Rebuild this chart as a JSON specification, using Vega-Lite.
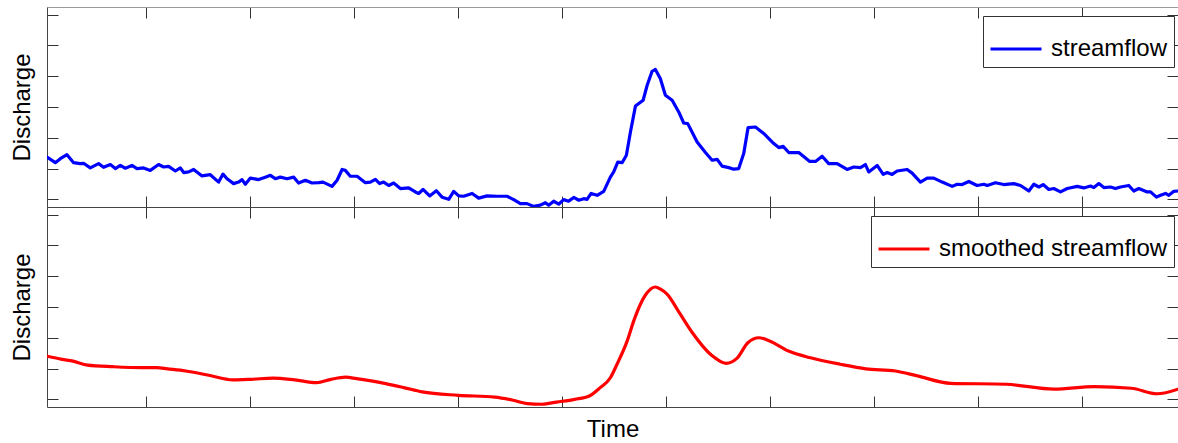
{
  "$schema": "https://vega.github.io/schema/vega-lite/v6.json",
  "background": "white",
  "padding": {"left": 10, "top": 6, "right": 0, "bottom": 0},
  "spacing": 0,
  "bounds": "flush",
  "config": {
    "font": "Liberation Sans",
    "view": {"stroke": null},
    "axis": {
      "labels": false,
      "grid": false,
      "tickSize": -11,
      "tickColor": "#333333",
      "tickWidth": 1,
      "domainColor": "#444444",
      "domainWidth": 1,
      "titleFont": "Liberation Sans",
      "titleFontSize": 24,
      "titleFontWeight": "normal",
      "titleColor": "#000000"
    },
    "legend": {
      "labelFont": "Liberation Sans",
      "labelFontSize": 24,
      "labelColor": "#000000",
      "labelLimit": 500,
      "strokeColor": "#333333",
      "fillColor": "#ffffff",
      "padding": 6,
      "symbolType": "stroke",
      "symbolSize": 2601,
      "symbolStrokeWidth": 3,
      "labelOffset": 8,
      "title": null,
      "orient": "none"
    }
  },
  "datasets": {
    "flow": [
      {"t": 4.8, "q": 1.37, "series": "streamflow"},
      {"t": 12.8, "q": 1.19, "series": "streamflow"},
      {"t": 17.6, "q": 1.32, "series": "streamflow"},
      {"t": 24.0, "q": 1.45, "series": "streamflow"},
      {"t": 30.4, "q": 1.19, "series": "streamflow"},
      {"t": 36.8, "q": 1.16, "series": "streamflow"},
      {"t": 40.0, "q": 1.17, "series": "streamflow"},
      {"t": 46.4, "q": 1.02, "series": "streamflow"},
      {"t": 54.4, "q": 1.16, "series": "streamflow"},
      {"t": 59.2, "q": 1.04, "series": "streamflow"},
      {"t": 65.7, "q": 1.13, "series": "streamflow"},
      {"t": 70.5, "q": 1.00, "series": "streamflow"},
      {"t": 75.3, "q": 1.10, "series": "streamflow"},
      {"t": 80.1, "q": 1.01, "series": "streamflow"},
      {"t": 86.5, "q": 1.10, "series": "streamflow"},
      {"t": 91.3, "q": 1.00, "series": "streamflow"},
      {"t": 97.7, "q": 1.02, "series": "streamflow"},
      {"t": 104.1, "q": 0.94, "series": "streamflow"},
      {"t": 112.1, "q": 1.13, "series": "streamflow"},
      {"t": 116.9, "q": 1.05, "series": "streamflow"},
      {"t": 121.7, "q": 1.07, "series": "streamflow"},
      {"t": 128.2, "q": 0.92, "series": "streamflow"},
      {"t": 133.0, "q": 1.02, "series": "streamflow"},
      {"t": 136.2, "q": 0.87, "series": "streamflow"},
      {"t": 141.0, "q": 0.89, "series": "streamflow"},
      {"t": 145.8, "q": 0.97, "series": "streamflow"},
      {"t": 153.8, "q": 0.76, "series": "streamflow"},
      {"t": 161.8, "q": 0.80, "series": "streamflow"},
      {"t": 169.8, "q": 0.56, "series": "streamflow"},
      {"t": 174.0, "q": 0.82, "series": "streamflow"},
      {"t": 177.9, "q": 0.67, "series": "streamflow"},
      {"t": 184.2, "q": 0.51, "series": "streamflow"},
      {"t": 189.0, "q": 0.56, "series": "streamflow"},
      {"t": 192.3, "q": 0.64, "series": "streamflow"},
      {"t": 195.5, "q": 0.49, "series": "streamflow"},
      {"t": 200.3, "q": 0.69, "series": "streamflow"},
      {"t": 208.3, "q": 0.64, "series": "streamflow"},
      {"t": 214.7, "q": 0.72, "series": "streamflow"},
      {"t": 219.5, "q": 0.78, "series": "streamflow"},
      {"t": 224.3, "q": 0.67, "series": "streamflow"},
      {"t": 229.1, "q": 0.72, "series": "streamflow"},
      {"t": 235.6, "q": 0.67, "series": "streamflow"},
      {"t": 241.9, "q": 0.72, "series": "streamflow"},
      {"t": 246.7, "q": 0.53, "series": "streamflow"},
      {"t": 253.2, "q": 0.62, "series": "streamflow"},
      {"t": 259.6, "q": 0.53, "series": "streamflow"},
      {"t": 266.0, "q": 0.54, "series": "streamflow"},
      {"t": 270.2, "q": 0.56, "series": "streamflow"},
      {"t": 278.8, "q": 0.42, "series": "streamflow"},
      {"t": 283.7, "q": 0.62, "series": "streamflow"},
      {"t": 288.5, "q": 0.97, "series": "streamflow"},
      {"t": 291.6, "q": 0.94, "series": "streamflow"},
      {"t": 296.4, "q": 0.75, "series": "streamflow"},
      {"t": 302.9, "q": 0.75, "series": "streamflow"},
      {"t": 310.9, "q": 0.54, "series": "streamflow"},
      {"t": 315.7, "q": 0.56, "series": "streamflow"},
      {"t": 320.5, "q": 0.65, "series": "streamflow"},
      {"t": 324.6, "q": 0.51, "series": "streamflow"},
      {"t": 328.5, "q": 0.56, "series": "streamflow"},
      {"t": 333.3, "q": 0.45, "series": "streamflow"},
      {"t": 338.1, "q": 0.53, "series": "streamflow"},
      {"t": 344.5, "q": 0.35, "series": "streamflow"},
      {"t": 352.5, "q": 0.37, "series": "streamflow"},
      {"t": 358.9, "q": 0.24, "series": "streamflow"},
      {"t": 362.1, "q": 0.19, "series": "streamflow"},
      {"t": 366.3, "q": 0.32, "series": "streamflow"},
      {"t": 372.7, "q": 0.11, "series": "streamflow"},
      {"t": 379.1, "q": 0.28, "series": "streamflow"},
      {"t": 384.6, "q": 0.07, "series": "streamflow"},
      {"t": 391.0, "q": 0.00, "series": "streamflow"},
      {"t": 395.8, "q": 0.26, "series": "streamflow"},
      {"t": 400.6, "q": 0.11, "series": "streamflow"},
      {"t": 405.4, "q": 0.10, "series": "streamflow"},
      {"t": 413.5, "q": 0.19, "series": "streamflow"},
      {"t": 419.8, "q": 0.04, "series": "streamflow"},
      {"t": 427.9, "q": 0.11, "series": "streamflow"},
      {"t": 437.5, "q": 0.10, "series": "streamflow"},
      {"t": 447.1, "q": 0.10, "series": "streamflow"},
      {"t": 453.5, "q": -0.01, "series": "streamflow"},
      {"t": 459.9, "q": -0.14, "series": "streamflow"},
      {"t": 466.3, "q": -0.14, "series": "streamflow"},
      {"t": 472.7, "q": -0.23, "series": "streamflow"},
      {"t": 479.1, "q": -0.19, "series": "streamflow"},
      {"t": 483.9, "q": -0.11, "series": "streamflow"},
      {"t": 487.1, "q": -0.19, "series": "streamflow"},
      {"t": 491.9, "q": -0.06, "series": "streamflow"},
      {"t": 496.7, "q": -0.16, "series": "streamflow"},
      {"t": 501.5, "q": -0.01, "series": "streamflow"},
      {"t": 506.3, "q": -0.06, "series": "streamflow"},
      {"t": 511.2, "q": 0.06, "series": "streamflow"},
      {"t": 516.0, "q": -0.03, "series": "streamflow"},
      {"t": 520.8, "q": 0.02, "series": "streamflow"},
      {"t": 524.0, "q": 0.00, "series": "streamflow"},
      {"t": 527.9, "q": 0.19, "series": "streamflow"},
      {"t": 533.7, "q": 0.13, "series": "streamflow"},
      {"t": 540.0, "q": 0.26, "series": "streamflow"},
      {"t": 546.4, "q": 0.72, "series": "streamflow"},
      {"t": 549.6, "q": 0.89, "series": "streamflow"},
      {"t": 553.5, "q": 1.21, "series": "streamflow"},
      {"t": 557.7, "q": 1.19, "series": "streamflow"},
      {"t": 561.8, "q": 1.43, "series": "streamflow"},
      {"t": 565.7, "q": 2.19, "series": "streamflow"},
      {"t": 570.5, "q": 3.03, "series": "streamflow"},
      {"t": 577.9, "q": 3.22, "series": "streamflow"},
      {"t": 581.7, "q": 3.70, "series": "streamflow"},
      {"t": 586.5, "q": 4.16, "series": "streamflow"},
      {"t": 589.7, "q": 4.22, "series": "streamflow"},
      {"t": 594.5, "q": 3.92, "series": "streamflow"},
      {"t": 599.3, "q": 3.38, "series": "streamflow"},
      {"t": 605.8, "q": 3.22, "series": "streamflow"},
      {"t": 612.1, "q": 2.84, "series": "streamflow"},
      {"t": 616.9, "q": 2.48, "series": "streamflow"},
      {"t": 620.8, "q": 2.46, "series": "streamflow"},
      {"t": 629.8, "q": 1.86, "series": "streamflow"},
      {"t": 637.8, "q": 1.52, "series": "streamflow"},
      {"t": 644.2, "q": 1.27, "series": "streamflow"},
      {"t": 649.0, "q": 1.30, "series": "streamflow"},
      {"t": 653.8, "q": 1.08, "series": "streamflow"},
      {"t": 660.2, "q": 1.03, "series": "streamflow"},
      {"t": 665.0, "q": 0.98, "series": "streamflow"},
      {"t": 669.8, "q": 1.00, "series": "streamflow"},
      {"t": 674.6, "q": 1.49, "series": "streamflow"},
      {"t": 678.8, "q": 2.33, "series": "streamflow"},
      {"t": 685.9, "q": 2.35, "series": "streamflow"},
      {"t": 693.8, "q": 2.14, "series": "streamflow"},
      {"t": 703.5, "q": 1.81, "series": "streamflow"},
      {"t": 708.3, "q": 1.68, "series": "streamflow"},
      {"t": 712.5, "q": 1.72, "series": "streamflow"},
      {"t": 717.9, "q": 1.52, "series": "streamflow"},
      {"t": 727.5, "q": 1.52, "series": "streamflow"},
      {"t": 738.1, "q": 1.23, "series": "streamflow"},
      {"t": 743.6, "q": 1.23, "series": "streamflow"},
      {"t": 750.0, "q": 1.40, "series": "streamflow"},
      {"t": 756.3, "q": 1.16, "series": "streamflow"},
      {"t": 764.4, "q": 1.16, "series": "streamflow"},
      {"t": 774.0, "q": 0.97, "series": "streamflow"},
      {"t": 780.4, "q": 1.05, "series": "streamflow"},
      {"t": 786.8, "q": 1.03, "series": "streamflow"},
      {"t": 791.6, "q": 1.13, "series": "streamflow"},
      {"t": 794.8, "q": 0.89, "series": "streamflow"},
      {"t": 802.9, "q": 1.10, "series": "streamflow"},
      {"t": 808.7, "q": 0.81, "series": "streamflow"},
      {"t": 812.5, "q": 0.87, "series": "streamflow"},
      {"t": 817.3, "q": 0.81, "series": "streamflow"},
      {"t": 822.1, "q": 0.92, "series": "streamflow"},
      {"t": 831.7, "q": 0.97, "series": "streamflow"},
      {"t": 836.5, "q": 0.85, "series": "streamflow"},
      {"t": 844.5, "q": 0.56, "series": "streamflow"},
      {"t": 851.0, "q": 0.69, "series": "streamflow"},
      {"t": 857.3, "q": 0.69, "series": "streamflow"},
      {"t": 865.4, "q": 0.56, "series": "streamflow"},
      {"t": 875.0, "q": 0.42, "series": "streamflow"},
      {"t": 879.8, "q": 0.49, "series": "streamflow"},
      {"t": 884.6, "q": 0.48, "series": "streamflow"},
      {"t": 891.0, "q": 0.58, "series": "streamflow"},
      {"t": 899.0, "q": 0.45, "series": "streamflow"},
      {"t": 905.4, "q": 0.49, "series": "streamflow"},
      {"t": 908.7, "q": 0.45, "series": "streamflow"},
      {"t": 916.6, "q": 0.54, "series": "streamflow"},
      {"t": 924.6, "q": 0.48, "series": "streamflow"},
      {"t": 934.2, "q": 0.51, "series": "streamflow"},
      {"t": 940.7, "q": 0.45, "series": "streamflow"},
      {"t": 948.7, "q": 0.27, "series": "streamflow"},
      {"t": 953.5, "q": 0.49, "series": "streamflow"},
      {"t": 958.3, "q": 0.40, "series": "streamflow"},
      {"t": 962.5, "q": 0.48, "series": "streamflow"},
      {"t": 967.9, "q": 0.32, "series": "streamflow"},
      {"t": 972.7, "q": 0.35, "series": "streamflow"},
      {"t": 979.1, "q": 0.24, "series": "streamflow"},
      {"t": 985.6, "q": 0.35, "series": "streamflow"},
      {"t": 995.2, "q": 0.42, "series": "streamflow"},
      {"t": 1001.5, "q": 0.37, "series": "streamflow"},
      {"t": 1008.0, "q": 0.43, "series": "streamflow"},
      {"t": 1011.2, "q": 0.38, "series": "streamflow"},
      {"t": 1016.0, "q": 0.51, "series": "streamflow"},
      {"t": 1020.8, "q": 0.38, "series": "streamflow"},
      {"t": 1027.2, "q": 0.40, "series": "streamflow"},
      {"t": 1032.0, "q": 0.35, "series": "streamflow"},
      {"t": 1036.8, "q": 0.40, "series": "streamflow"},
      {"t": 1044.8, "q": 0.45, "series": "streamflow"},
      {"t": 1049.6, "q": 0.27, "series": "streamflow"},
      {"t": 1054.4, "q": 0.35, "series": "streamflow"},
      {"t": 1062.5, "q": 0.24, "series": "streamflow"},
      {"t": 1065.7, "q": 0.24, "series": "streamflow"},
      {"t": 1071.4, "q": 0.07, "series": "streamflow"},
      {"t": 1075.3, "q": 0.13, "series": "streamflow"},
      {"t": 1080.1, "q": 0.19, "series": "streamflow"},
      {"t": 1083.3, "q": 0.13, "series": "streamflow"},
      {"t": 1088.1, "q": 0.26, "series": "streamflow"},
      {"t": 1092.1, "q": 0.27, "series": "streamflow"}
    ],
    "smooth": [
      {"t": 4.8, "q": 1.40, "series": "smoothed streamflow"},
      {"t": 19.3, "q": 1.30, "series": "smoothed streamflow"},
      {"t": 29.8, "q": 1.24, "series": "smoothed streamflow"},
      {"t": 43.8, "q": 1.11, "series": "smoothed streamflow"},
      {"t": 68.3, "q": 1.06, "series": "smoothed streamflow"},
      {"t": 96.3, "q": 1.03, "series": "smoothed streamflow"},
      {"t": 110.2, "q": 1.03, "series": "smoothed streamflow"},
      {"t": 120.7, "q": 0.99, "series": "smoothed streamflow"},
      {"t": 138.2, "q": 0.92, "series": "smoothed streamflow"},
      {"t": 159.1, "q": 0.79, "series": "smoothed streamflow"},
      {"t": 183.7, "q": 0.63, "series": "smoothed streamflow"},
      {"t": 201.1, "q": 0.65, "series": "smoothed streamflow"},
      {"t": 222.0, "q": 0.69, "series": "smoothed streamflow"},
      {"t": 243.1, "q": 0.63, "series": "smoothed streamflow"},
      {"t": 264.0, "q": 0.54, "series": "smoothed streamflow"},
      {"t": 278.0, "q": 0.65, "series": "smoothed streamflow"},
      {"t": 291.9, "q": 0.72, "series": "smoothed streamflow"},
      {"t": 302.4, "q": 0.67, "series": "smoothed streamflow"},
      {"t": 330.4, "q": 0.51, "series": "smoothed streamflow"},
      {"t": 347.9, "q": 0.38, "series": "smoothed streamflow"},
      {"t": 365.4, "q": 0.24, "series": "smoothed streamflow"},
      {"t": 400.3, "q": 0.13, "series": "smoothed streamflow"},
      {"t": 435.3, "q": 0.07, "series": "smoothed streamflow"},
      {"t": 452.8, "q": -0.03, "series": "smoothed streamflow"},
      {"t": 466.7, "q": -0.14, "series": "smoothed streamflow"},
      {"t": 480.7, "q": -0.16, "series": "smoothed streamflow"},
      {"t": 494.7, "q": -0.09, "series": "smoothed streamflow"},
      {"t": 512.1, "q": 0.00, "series": "smoothed streamflow"},
      {"t": 526.2, "q": 0.11, "series": "smoothed streamflow"},
      {"t": 536.6, "q": 0.38, "series": "smoothed streamflow"},
      {"t": 546.4, "q": 0.70, "series": "smoothed streamflow"},
      {"t": 552.8, "q": 1.14, "series": "smoothed streamflow"},
      {"t": 562.5, "q": 1.89, "series": "smoothed streamflow"},
      {"t": 568.8, "q": 2.54, "series": "smoothed streamflow"},
      {"t": 575.3, "q": 3.09, "series": "smoothed streamflow"},
      {"t": 581.7, "q": 3.46, "series": "smoothed streamflow"},
      {"t": 589.7, "q": 3.65, "series": "smoothed streamflow"},
      {"t": 595.0, "q": 3.57, "series": "smoothed streamflow"},
      {"t": 600.9, "q": 3.42, "series": "smoothed streamflow"},
      {"t": 611.9, "q": 2.86, "series": "smoothed streamflow"},
      {"t": 624.9, "q": 2.18, "series": "smoothed streamflow"},
      {"t": 643.4, "q": 1.44, "series": "smoothed streamflow"},
      {"t": 657.6, "q": 1.17, "series": "smoothed streamflow"},
      {"t": 668.0, "q": 1.33, "series": "smoothed streamflow"},
      {"t": 678.6, "q": 1.84, "series": "smoothed streamflow"},
      {"t": 689.2, "q": 2.00, "series": "smoothed streamflow"},
      {"t": 699.9, "q": 1.89, "series": "smoothed streamflow"},
      {"t": 717.6, "q": 1.57, "series": "smoothed streamflow"},
      {"t": 738.8, "q": 1.35, "series": "smoothed streamflow"},
      {"t": 767.2, "q": 1.14, "series": "smoothed streamflow"},
      {"t": 792.0, "q": 0.99, "series": "smoothed streamflow"},
      {"t": 820.4, "q": 0.92, "series": "smoothed streamflow"},
      {"t": 841.6, "q": 0.76, "series": "smoothed streamflow"},
      {"t": 873.6, "q": 0.52, "series": "smoothed streamflow"},
      {"t": 926.7, "q": 0.49, "series": "smoothed streamflow"},
      {"t": 972.8, "q": 0.33, "series": "smoothed streamflow"},
      {"t": 1011.7, "q": 0.41, "series": "smoothed streamflow"},
      {"t": 1047.2, "q": 0.36, "series": "smoothed streamflow"},
      {"t": 1072.0, "q": 0.18, "series": "smoothed streamflow"},
      {"t": 1092.1, "q": 0.33, "series": "smoothed streamflow"}
    ]
  },
  "resolve": {
    "scale": {"color": "independent"},
    "legend": {"color": "independent"}
  },
  "vconcat": [
    {
      "width": 1131,
      "height": 200,
      "data": {"name": "flow"},
      "layer": [
        {
          "mark": {"type": "line", "strokeWidth": 3.2, "strokeJoin": "round", "strokeCap": "round", "clip": true},
          "encoding": {
            "x": {
              "field": "t", "type": "quantitative",
              "scale": {"domain": [4.8, 1092.1], "nice": false, "zero": false},
              "axis": {"orient": "bottom", "title": null, "values": [100, 200, 300, 400, 500, 600, 700, 800, 900, 1000]}
            },
            "y": {
              "field": "q", "type": "quantitative",
              "scale": {"domain": [-0.25, 6.25], "nice": false, "zero": false},
              "axis": {"orient": "left", "title": "Discharge", "titlePadding": 12, "values": [0, 1, 2, 3, 4, 5, 6]}
            },
            "color": {
              "field": "series", "type": "nominal",
              "scale": {"domain": ["streamflow"], "range": ["#0000ff"]},
              "legend": {"legendX": 936, "legendY": 9}
            }
          }
        },
        {
          "mark": {"type": "line", "opacity": 0},
          "encoding": {
            "x": {
              "field": "t", "type": "quantitative",
              "axis": {"orient": "top", "title": null, "domainColor": "#999999", "values": [100, 200, 300, 400, 500, 600, 700, 800, 900, 1000]}
            },
            "y": {
              "field": "q", "type": "quantitative",
              "axis": {"orient": "right", "title": null, "domainColor": "#888888", "values": [0, 1, 2, 3, 4, 5, 6]}
            }
          }
        }
      ],
      "resolve": {"axis": {"x": "independent", "y": "independent"}}
    },
    {
      "width": 1131,
      "height": 200,
      "data": {"name": "smooth"},
      "layer": [
        {
          "mark": {"type": "line", "strokeWidth": 3.2, "interpolate": "monotone", "strokeJoin": "round", "strokeCap": "round", "clip": true},
          "encoding": {
            "x": {
              "field": "t", "type": "quantitative",
              "scale": {"domain": [4.8, 1092.1], "nice": false, "zero": false},
              "axis": {"orient": "bottom", "title": "Time", "titlePadding": 10, "values": [100, 200, 300, 400, 500, 600, 700, 800, 900, 1000]}
            },
            "y": {
              "field": "q", "type": "quantitative",
              "scale": {"domain": [-0.25, 6.25], "nice": false, "zero": false},
              "axis": {"orient": "left", "title": "Discharge", "titlePadding": 12, "values": [0, 1, 2, 3, 4, 5, 6]}
            },
            "color": {
              "field": "series", "type": "nominal",
              "scale": {"domain": ["smoothed streamflow"], "range": ["#ff0000"]},
              "legend": {"legendX": 824, "legendY": 9}
            }
          }
        },
        {
          "mark": {"type": "line", "opacity": 0},
          "encoding": {
            "x": {
              "field": "t", "type": "quantitative",
              "axis": {"orient": "top", "title": null, "values": [100, 200, 300, 400, 500, 600, 700, 800, 900, 1000]}
            },
            "y": {
              "field": "q", "type": "quantitative",
              "axis": {"orient": "right", "title": null, "domainColor": "#888888", "values": [0, 1, 2, 3, 4, 5, 6]}
            }
          }
        }
      ],
      "resolve": {"axis": {"x": "independent", "y": "independent"}}
    }
  ]
}
